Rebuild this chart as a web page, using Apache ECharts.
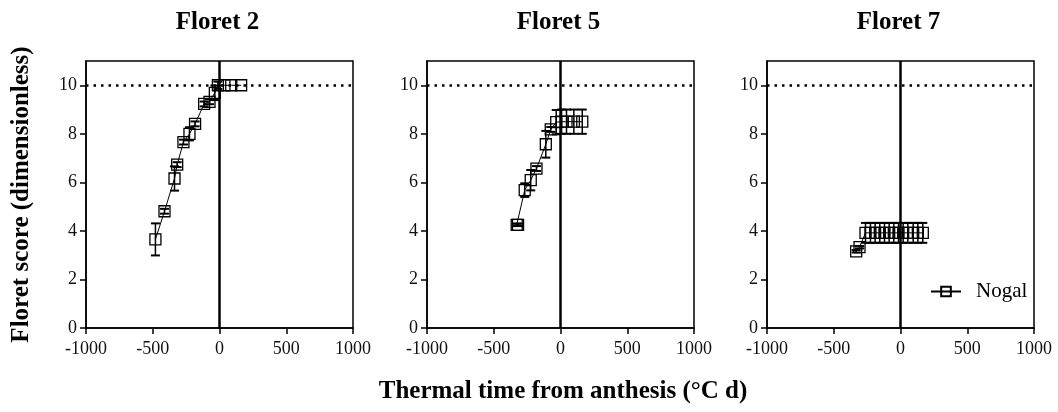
<!DOCTYPE html>
<html>
<head>
<meta charset="utf-8">
<script src="https://cdn.jsdelivr.net/npm/echarts@6/dist/echarts.min.js"></script>
<style>
html,body{margin:0;padding:0;background:#fff;}
#chart{width:1058px;height:412px;}
</style>
</head>
<body>
<div id="chart"></div>
<script>
// ---- data ----
const panelTitles = ['Floret 2', 'Floret 5', 'Floret 7'];
const seriesName = 'Nogal';
const xTicks = [-1000, -500, 0, 500, 1000];
const yTicks = [0, 2, 4, 6, 8, 10];

const floret2X = [-480, -412, -337, -317, -270, -225, -183, -115, -75, -35, -12, 37, 88, 162];
const floret2Y = [3.65, 4.81, 6.16, 6.73, 7.66, 8.0, 8.41, 9.23, 9.32, 9.69, 10.0, 10.0, 10.0, 10.0];
const floret2Err = [0.66, 0.1, 0.5, 0.1, 0.1, 0.27, 0.1, 0.1, 0.1, 0.3, 0.15, 0, 0, 0];

const floret5X = [-328, -318, -268, -223, -180, -110, -73, -32, 8, 45, 100, 163];
const floret5Y = [4.25, 4.25, 5.68, 6.09, 6.57, 7.57, 8.18, 8.48, 8.5, 8.5, 8.5, 8.5];
const floret5Err = [0.05, 0.05, 0.28, 0.42, 0.1, 0.55, 0.1, 0.5, 0.5, 0.5, 0.5, 0.5];

const floret7X = [-332, -307, -262, -225, -190, -155, -120, -85, -50, -15, 20, 55, 95, 130, 167];
const floret7Y = [3.16, 3.33, 3.92, 3.92, 3.92, 3.92, 3.92, 3.92, 3.92, 3.92, 3.92, 3.92, 3.92, 3.92, 3.92];
const floret7Err = [0.05, 0.05, 0.41, 0.41, 0.41, 0.41, 0.41, 0.41, 0.41, 0.41, 0.41, 0.41, 0.41, 0.41, 0.41];

const refX = 0;     // anthesis
const refY = 10;    // max score

// ---- chart ----
const FONT = "'Liberation Serif', 'Times New Roman', serif";
const panels = [
  {x: floret2X, y: floret2Y, e: floret2Err},
  {x: floret5X, y: floret5Y, e: floret5Err},
  {x: floret7X, y: floret7Y, e: floret7Err}
];
const lefts = [86, 427, 767];
const W = 267, TOP = 61, H = 267;

const grids = [], xAxes = [], yAxes = [], series = [], titles = [];
panels.forEach((p, i) => {
  grids.push({left: lefts[i], top: TOP, width: W, height: H, show: true,
    borderColor: '#000', borderWidth: 1.5, backgroundColor: 'transparent'});
  xAxes.push({type: 'value', gridIndex: i, min: -1000, max: 1000, interval: 500,
    axisLine: {show: true, onZero: false, lineStyle: {color: '#000', width: 1.5}},
    axisTick: {show: true, length: 6, lineStyle: {color: '#000', width: 1.5}},
    axisLabel: {color: '#111', fontFamily: FONT, fontSize: 18, margin: 12,
      customValues: xTicks, formatter: v => String(v)},
    splitLine: {show: false}});
  yAxes.push({type: 'value', gridIndex: i, min: 0, max: 11, interval: 2,
    axisLine: {show: true, onZero: false, lineStyle: {color: '#000', width: 1.5}},
    axisTick: {show: true, length: 6, customValues: yTicks, lineStyle: {color: '#000', width: 1.5}},
    axisLabel: {color: '#111', fontFamily: FONT, fontSize: 18, margin: 9, customValues: yTicks},
    splitLine: {show: false},
    name: i === 0 ? 'Floret score (dimensionless)' : '',
    nameLocation: 'middle', nameGap: 52, nameRotate: 90,
    nameTextStyle: {fontFamily: FONT, fontSize: 25, fontWeight: 'bold', color: '#000'}});
  titles.push({text: panelTitles[i], left: lefts[i] + W / 2 - 7, top: 5, textAlign: 'center',
    textStyle: {fontFamily: FONT, fontSize: 25, fontWeight: 'bold', color: '#000'}});

  const pts = p.x.map((xv, k) => [xv, p.y[k], p.e[k]]);
  series.push({
    name: seriesName, type: 'line', xAxisIndex: i, yAxisIndex: i,
    data: pts.map(d => [d[0], d[1]]),
    symbol: 'rect', symbolSize: 11, showSymbol: true,
    lineStyle: {color: '#000', width: 1},
    itemStyle: {color: 'rgba(255,255,255,0)', borderColor: '#000', borderWidth: 1.3},
    z: 4, animation: false,
    markLine: {silent: true, symbol: ['none', 'none'], label: {show: false}, animation: false,
      data: [
        {xAxis: refX, lineStyle: {color: '#000', width: 2.5, type: 'solid'}},
        {yAxis: refY, lineStyle: {color: '#000', width: 2.5, type: [2.5, 5]}}
      ]}
  });
  series.push({
    type: 'custom', xAxisIndex: i, yAxisIndex: i, z: 3, silent: true, animation: false,
    data: pts,
    renderItem: function (params, api) {
      const xv = api.value(0), yv = api.value(1), ev = api.value(2);
      if (!ev) return null;
      const hi = api.coord([xv, yv + ev]);
      const lo = api.coord([xv, yv - ev]);
      const cw = 4.5;
      const st = {stroke: '#000', lineWidth: 1.5, fill: null};
      return {type: 'group', children: [
        {type: 'line', shape: {x1: hi[0], y1: hi[1], x2: lo[0], y2: lo[1]}, style: st},
        {type: 'line', shape: {x1: hi[0] - cw, y1: hi[1], x2: hi[0] + cw, y2: hi[1]}, style: {stroke: '#000', lineWidth: 2}},
        {type: 'line', shape: {x1: lo[0] - cw, y1: lo[1], x2: lo[0] + cw, y2: lo[1]}, style: {stroke: '#000', lineWidth: 2}}
      ]};
    }
  });
});

titles.push({text: 'Thermal time from anthesis (\u00B0C d)', left: 558, top: 374, textAlign: 'center',
  textStyle: {fontFamily: FONT, fontSize: 25, fontWeight: 'bold', color: '#000'}});

const chart = echarts.init(document.getElementById('chart'), null, {renderer: 'canvas'});
chart.setOption({
  animation: false,
  backgroundColor: '#fff',
  title: titles,
  grid: grids,
  xAxis: xAxes,
  yAxis: yAxes,
  legend: {data: [seriesName], left: 925, top: 276, itemWidth: 30, itemHeight: 12, itemGap: 0,
    textStyle: {fontFamily: FONT, fontSize: 21, color: '#000', padding: [0, 0, 0, 10]}},
  series: series
});
</script>
</body>
</html>
